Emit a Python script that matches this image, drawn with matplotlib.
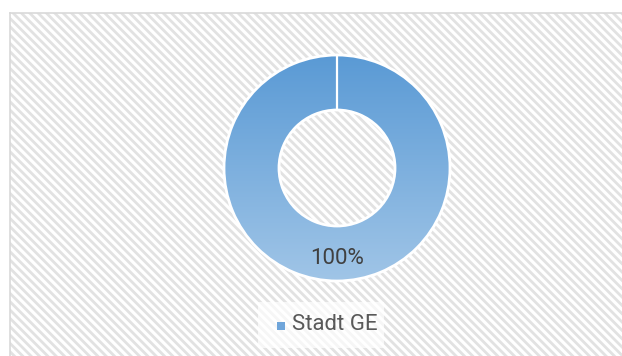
import matplotlib.pyplot as plt
import numpy as np
from matplotlib.patches import Rectangle
from matplotlib.colors import LinearSegmentedColormap

plt.rcParams['hatch.linewidth'] = 2.0

# data
categories = ['Stadt GE']
shares = [100]
labels = ['100%']

W, H = 622, 356
fig = plt.figure(figsize=(W / 100, H / 100), dpi=100)
ax = fig.add_axes([0, 0, 1, 1])

# hatched chart area with thin border on the left/top
bg = Rectangle((9.5, 12.5), W, H, facecolor='white', edgecolor='#e2e2e2',
               linewidth=0, hatch='\\\\\\\\', zorder=0)
ax.add_patch(bg)
ax.plot([9.5, 9.5], [H, 12.5], color='#d9d9d9', lw=1.2, zorder=1)
ax.plot([9.5, W], [12.5, 12.5], color='#d9d9d9', lw=1.2, zorder=1)

# doughnut
cx, cy, r_out, r_in = 337, 168, 113, 58
wedges, _ = ax.pie(shares, center=(cx, cy), radius=r_out, startangle=90,
                   counterclock=False, frame=True,
                   wedgeprops=dict(width=r_out - r_in, facecolor='none',
                                   edgecolor='white', linewidth=2.0))
for w in wedges:
    w.set_zorder(4)

# vertical blue gradient clipped to the ring
cmap = LinearSegmentedColormap.from_list('ring', ['#5a9ad5', '#a0c5e7'])
grad = np.linspace(0, 1, 256).reshape(-1, 1)
for w in wedges:
    img = ax.imshow(grad, cmap=cmap, aspect='auto', zorder=3,
                    extent=(cx - r_out, cx + r_out, cy + r_out, cy - r_out))
    img.set_clip_path(w)

# slice boundary at 12 o'clock
ax.plot([cx, cx], [cy - r_in, cy - r_out], color='white', lw=1.6, zorder=4)

ax.text(cx, 259, labels[0], ha='center', va='center', fontsize=16,
        family='Roboto', color='#404040', zorder=5)

# legend
ax.add_patch(Rectangle((258, 302), 126, 46, facecolor='white', edgecolor='none',
                       alpha=0.7, zorder=2))
ax.add_patch(Rectangle((277, 322), 8, 8, facecolor='#6fa5da', edgecolor='none',
                       zorder=5))
ax.text(292, 325, categories[0], ha='left', va='center', fontsize=16,
        family='Roboto', color='#595959', zorder=5)

ax.set_xlim(0, W)
ax.set_ylim(H, 0)
ax.set_aspect('auto')
ax.axis('off')

fig.savefig('out.png', dpi=100)
